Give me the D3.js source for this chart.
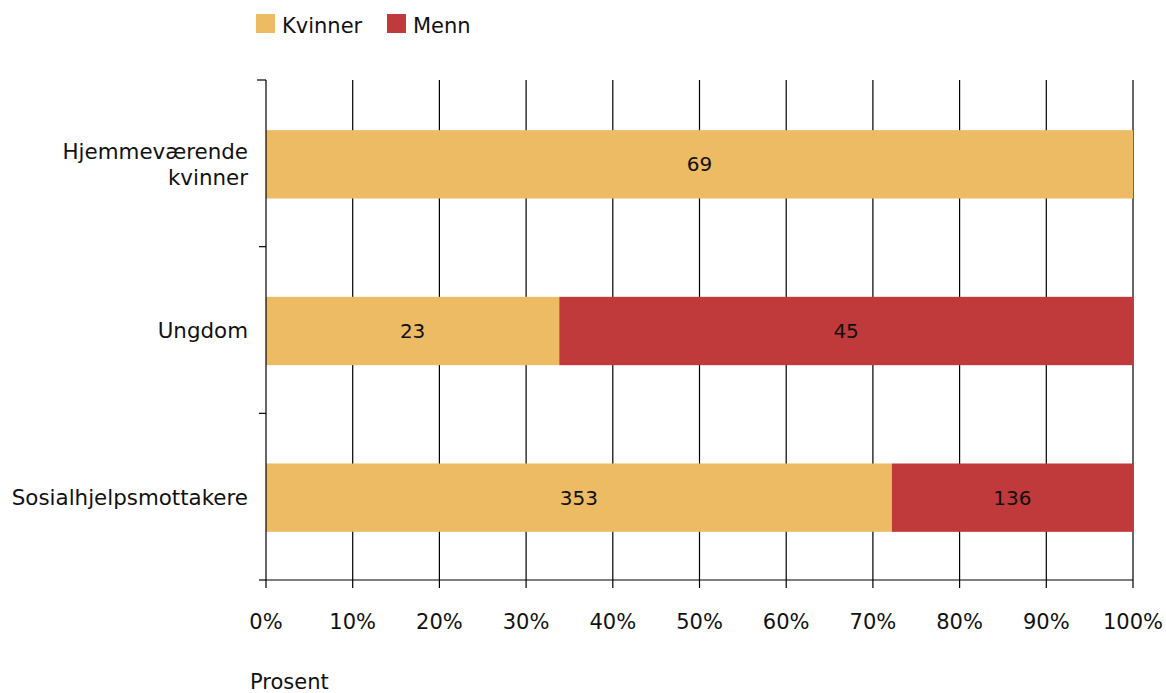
<!DOCTYPE html>
<html><head><meta charset="utf-8">
<script src="https://cdn.jsdelivr.net/npm/d3@7"></script>
<style>body{margin:0;background:#fff}svg{font-family:"DejaVu Sans",Verdana,sans-serif}</style>
</head><body><svg id="c" width="1166" height="693"></svg>
<script>
const categories = [["Hjemmeværende","kvinner"],["Ungdom"],["Sosialhjelpsmottakere"]];
const seriesNames = ["Kvinner","Menn"];
const kvinner = [69, 23, 353];
const menn = [0, 45, 136];
const colors = ["#ECBB64","#C0393B"];
const xTicks = [0,10,20,30,40,50,60,70,80,90,100];
const xTitle = "Prosent";

const svg = d3.select("#c");
const m = {l:266, r:1133, t:80, b:580};
const x = d3.scaleLinear().domain([0,100]).range([m.l,m.r]);
const y = d3.scaleBand().domain(categories.map((d,i)=>i)).range([m.t+1,m.b+1]).paddingInner(0.59).paddingOuter(0.295);
const yOuter = d3.scaleBand().domain(categories.map((d,i)=>i)).range([m.t,m.b]);

// grid
svg.append("g").selectAll("line").data(xTicks.slice(1)).join("line")
  .attr("x1",d=>x(d)).attr("x2",d=>x(d)).attr("y1",m.t).attr("y2",m.b)
  .attr("stroke","#000").attr("stroke-width",1.2);

// bars
const rows = categories.map((c,i)=>{const tot=kvinner[i]+menn[i];return {i,vals:[kvinner[i],menn[i]],tot};});
rows.forEach(r=>{
  let acc=0;
  r.vals.forEach((v,s)=>{
    if(v<=0) return;
    const p0=acc/r.tot*100, p1=(acc+v)/r.tot*100; acc+=v;
    svg.append("rect").attr("x",x(p0)).attr("width",x(p1)-x(p0))
      .attr("y",y(r.i)).attr("height",y.bandwidth()).attr("fill",colors[s]);
    svg.append("text").attr("x",(x(p0)+x(p1))/2).attr("y",y(r.i)+y.bandwidth()/2)
      .attr("dy","0.35em").attr("text-anchor","middle").attr("font-size",20).attr("fill","#111").text(v);
  });
});

// left axis
const la = svg.append("g");
la.append("line").attr("x1",m.l).attr("x2",m.l).attr("y1",m.t).attr("y2",m.b).attr("stroke","#000").attr("stroke-width",1.2);
[0,1,2,3].forEach(k=>{
  const yy = k<3 ? yOuter(k) : m.b;
  la.append("line").attr("x1",m.l-(k==0?9:7)).attr("x2",m.l).attr("y1",yy).attr("y2",yy).attr("stroke","#000").attr("stroke-width",1.2);
});
categories.forEach((c,i)=>{
  const cy = y(i)+y.bandwidth()/2;
  const t = la.append("text").attr("text-anchor","end").attr("font-size",21.4).attr("fill","#111");
  c.forEach((line,j)=>{
    t.append("tspan").attr("x",m.l-18).attr("y",cy+(j-(c.length-1)/2)*26).attr("dy","0.35em").text(line);
  });
});

// bottom axis
const ba = svg.append("g");
ba.append("line").attr("x1",m.l).attr("x2",m.r).attr("y1",m.b).attr("y2",m.b).attr("stroke","#000").attr("stroke-width",1.2);
xTicks.forEach(d=>{
  ba.append("line").attr("x1",x(d)).attr("x2",x(d)).attr("y1",m.b).attr("y2",m.b+8).attr("stroke","#000").attr("stroke-width",1.2);
  ba.append("text").attr("x",x(d)).attr("y",622).attr("dy","0.35em").attr("text-anchor","middle").attr("font-size",21).attr("fill","#111").text(d+"%");
});
svg.append("text").attr("x",250).attr("y",682).attr("dy","0.35em").attr("font-size",21).attr("fill","#111").text(xTitle);

// legend
const lx=[256,387];
seriesNames.forEach((n,i)=>{
  svg.append("rect").attr("x",lx[i]).attr("y",14).attr("width",19).attr("height",19).attr("fill",colors[i]);
  svg.append("text").attr("x",lx[i]+26).attr("y",26).attr("dy","0.35em").attr("font-size",21).attr("fill","#111").text(n);
});
</script></body></html>
